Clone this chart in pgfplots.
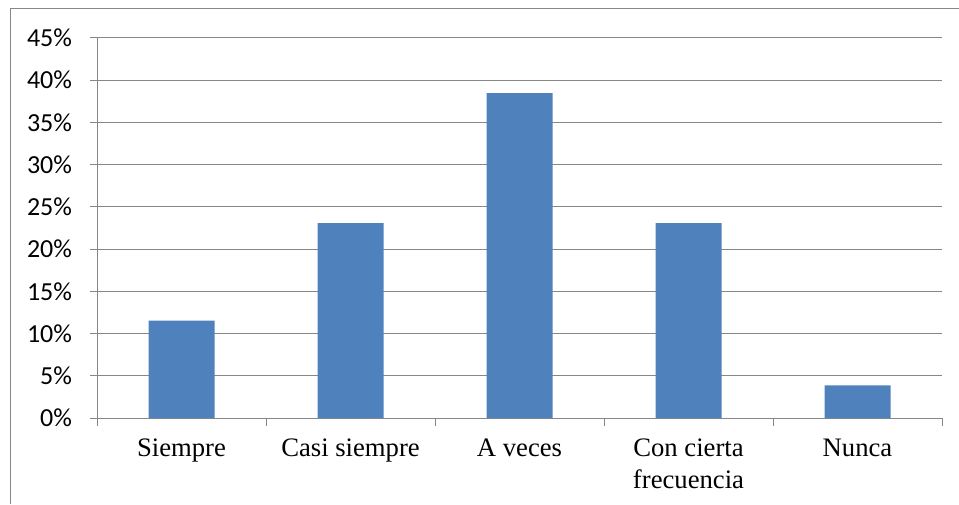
\documentclass[border=0pt]{standalone}
\usepackage{pgfplots}
\pgfplotsset{compat=1.18}
\usepackage{fontspec}
\setmainfont{Liberation Serif}
\newfontfamily\calib{Carlito}
\definecolor{barblue}{HTML}{4F81BD}
\definecolor{gridgray}{HTML}{878787}
\begin{document}
\begin{tikzpicture}
\useasboundingbox (0pt,0pt) rectangle (719.25pt,378pt);
\draw[gridgray, line width=0.75pt] (7.5pt,0pt) -- (7.5pt,371.25pt) -- (719.25pt,371.25pt);
\begin{axis}[
  at={(72.75pt,64.5pt)}, anchor=south west,
  scale only axis, width=633.75pt, height=285pt,
  ymin=0, ymax=45, ytick={0,5,...,45},
  yticklabel={\pgfmathprintnumber{\tick}\%},
  /pgf/number format/assume math mode=true,
  yticklabel style={font=\calib\fontsize{19.5}{22}\selectfont, xshift=-10pt},
  ymajorgrids, grid style={gridgray, line width=0.75pt},
  xmin=-0.5, xmax=4.5,
  xtick={0,1,2,3,4},
  xticklabels={Siempre, Casi siempre, A veces, {Con cierta\\frecuencia}, Nunca},
  xticklabel style={font=\fontsize{20}{24}\selectfont, align=center, anchor=north, yshift=-7pt},
  major x tick style={draw=none},
  minor xtick={-0.5,0.5,1.5,2.5,3.5,4.5},
  minor tick length=6pt, major tick length=5.25pt,
  tick align=outside,
  tick style={gridgray, line width=0.75pt},
  xminorgrids=false,
  axis x line*=bottom, axis y line*=left,
  axis line style={gridgray, line width=0.75pt, -},
  ybar, bar width=49.5pt,
]
\addplot[fill=barblue, draw=none] coordinates {(0,11.54) (1,23.08) (2,38.46) (3,23.08) (4,3.85)};
\end{axis}
\end{tikzpicture}
\end{document}
